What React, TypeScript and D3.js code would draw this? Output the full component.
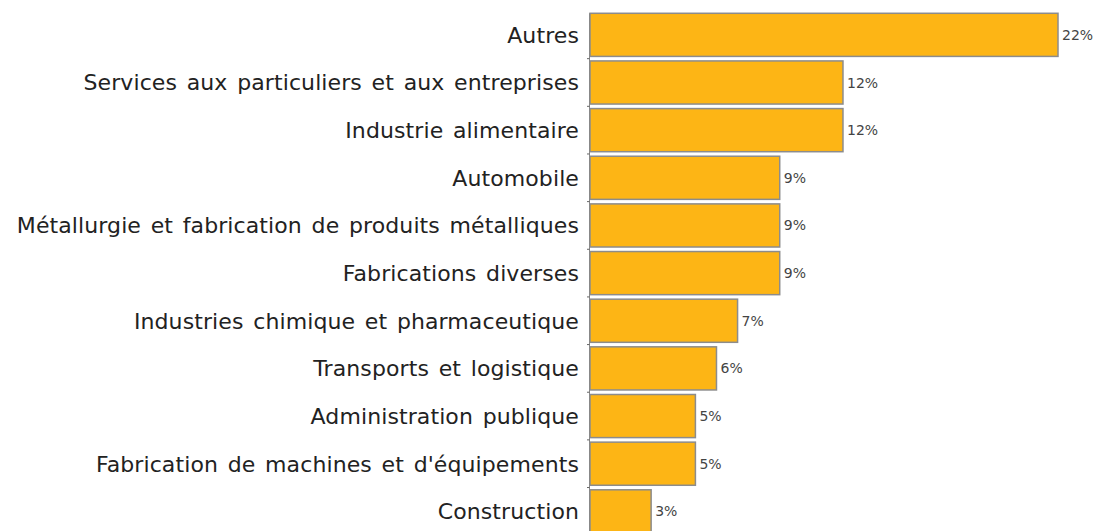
import React from "react";
import * as d3 from "d3";

const categories: string[] = [
  "Autres",
  "Services aux particuliers et aux entreprises",
  "Industrie alimentaire",
  "Automobile",
  "Métallurgie et fabrication de produits métalliques",
  "Fabrications diverses",
  "Industries chimique et pharmaceutique",
  "Transports et logistique",
  "Administration publique",
  "Fabrication de machines et d'équipements",
  "Construction",
];

const values: number[] = [22.2, 12.0, 12.0, 9.0, 9.0, 9.0, 7.0, 6.0, 5.0, 5.0, 2.9];

const W = 1097;
const H = 531;

export default function App() {
  const x = d3.scaleLinear().domain([0, 22.2]).range([590, 1058]);
  const y = d3
    .scaleBand<string>()
    .domain(categories)
    .range([10.9, 535.3])
    .paddingInner(0.095)
    .paddingOuter(0.05);
  const bw = y.bandwidth();
  const step = y.step();
  const top = y(categories[0]) as number;

  return (
    <svg
      width={W}
      height={H}
      style={{ position: "absolute", left: 0, top: 0, display: "block", background: "#fff" }}
      fontFamily="'DejaVu Sans', sans-serif"
    >
      {categories.map((c, i) => {
        const y0 = y(c) as number;
        const v = values[i];
        return (
          <g key={c}>
            <rect
              x={x(0)}
              y={y0}
              width={x(v) - x(0)}
              height={bw}
              fill="#FDB515"
              stroke="#8c8c8c"
              strokeWidth={1.5}
            />
            <text
              x={579}
              y={y0 + bw / 2}
              dy="0.36em"
              textAnchor="end"
              fontSize={22}
              letterSpacing={0.1}
              wordSpacing={2.6}
              fill="#222"
            >
              {c}
            </text>
            <text
              x={x(v) + 4}
              y={y0 + bw / 2}
              dy="0.36em"
              fontSize={14}
              fill="#444"
            >
              {Math.round(v) + "%"}
            </text>
          </g>
        );
      })}
      <line x1={589.5} x2={589.5} y1={top} y2={H} stroke="#888" strokeWidth={1} />
      {categories.slice(1).map((c) => {
        const ty = (y(c) as number) - (step - bw) / 2;
        return (
          <line key={"t" + c} x1={587} x2={589.5} y1={ty} y2={ty} stroke="#666" strokeWidth={1} />
        );
      })}
    </svg>
  );
}
